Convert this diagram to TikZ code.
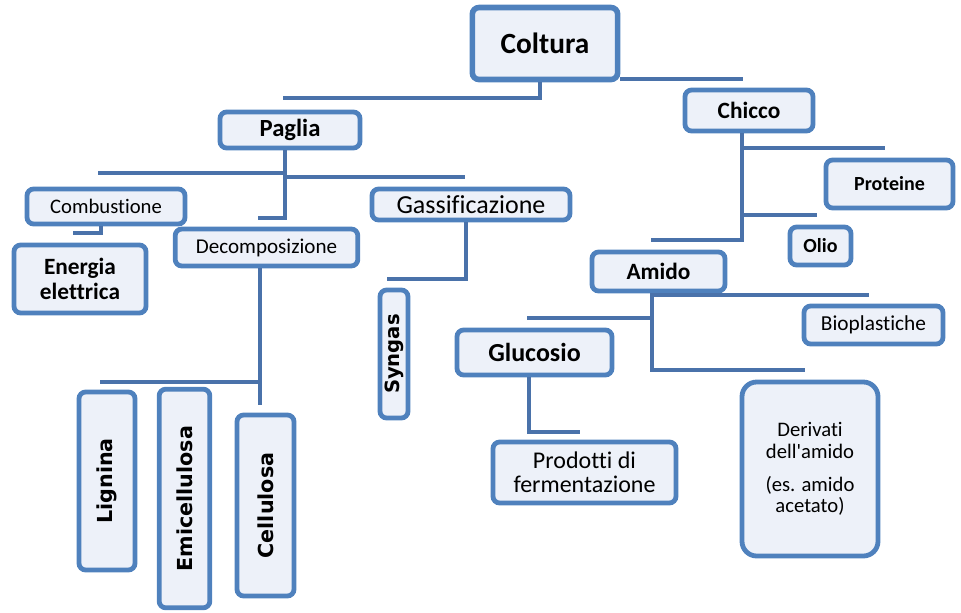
\documentclass[tikz,border=0pt]{standalone}
\usepackage{fontspec}
\setmainfont{Carlito}[Ligatures={TeXOff,NoCommon}]
\newfontfamily\vfont{DejaVu Sans}
\definecolor{boxline}{HTML}{4F81BD}
\definecolor{boxfill}{HTML}{EDF1F9}
\definecolor{linkline}{HTML}{4A72AA}
\newcommand\fsz[1]{\fontsize{#1}{#1}\selectfont}
\begin{document}
\begin{tikzpicture}[x=.75pt,y=-.75pt,
  box/.style={draw=boxline,fill=boxfill,line width=3.6pt,rounded corners=5pt,inner sep=0pt,align=center},
  vbox/.style={box,rotate=90,font=\vfont\bfseries\fsz{15.5}},
  link/.style={draw=linkline,line width=3pt}]
\useasboundingbox (0,0) rectangle (961,612);
% boxes
\node[box,line width=4.2pt,minimum width=109pt,minimum height=54pt,font=\bfseries\fsz{22}] (coltura) at (545,43.5) {Coltura};
\node[box,minimum width=105pt,minimum height=27pt,font=\bfseries\fsz{18.5}] (paglia) at (290,130) {Paglia};
\node[box,minimum width=96pt,minimum height=30.75pt,font=\bfseries\fsz{17.5}] (chicco) at (749,110.5) {Chicco};
\node[box,minimum width=118.5pt,minimum height=26.25pt,font=\fsz{15.5}] (combustione) at (106,206.5) {Combustione};
\node[box,minimum width=99pt,minimum height=51pt,font=\bfseries\fontsize{17.5}{19}\selectfont] (energia) at (80,279) {Energia\\elettrica};
\node[box,minimum width=137pt,minimum height=27.75pt,font=\fsz{15.8}] (decomp) at (266.5,247.5) {Decomposizione};
\node[box,minimum width=148.5pt,minimum height=23.25pt,font=\fsz{19.5}] (gassif) at (471,204.5) {Gassificazione};
\node[vbox,minimum width=96pt,minimum height=21pt,font=\vfont\bfseries\fsz{14.7}] (syngas) at (394,354) {Syngas};
\node[vbox,minimum width=133.5pt,minimum height=42pt] (lignina) at (107,481) {Lignina};
\node[vbox,minimum width=164pt,minimum height=38pt] (emicell) at (184.5,498.5) {Emicellulosa};
\node[vbox,minimum width=135.75pt,minimum height=42.75pt] (cellulosa) at (265.5,505.5) {Cellulosa};
\node[box,minimum width=95.25pt,minimum height=36pt,font=\bfseries\fsz{15}] (proteine) at (889.5,184) {Proteine};
\node[box,minimum width=45.75pt,minimum height=28.5pt,font=\bfseries\fsz{15}] (olio) at (820.5,246) {Olio};
\node[box,minimum width=99.75pt,minimum height=29.25pt,font=\bfseries\fsz{17.5}] (amido) at (658.5,271.5) {Amido};
\node[box,minimum width=104.25pt,minimum height=28.5pt,font=\fsz{16}] (bioplast) at (873.5,325) {Bioplastiche};
\node[box,minimum width=116.25pt,minimum height=33.75pt,font=\bfseries\fsz{19.5}] (glucosio) at (534.5,352.5) {Glucosio};
\node[box,minimum width=137.25pt,minimum height=45.75pt,font=\fontsize{18}{18}\selectfont] (prodotti) at (584.5,472.5) {Prodotti di\\fermentazione};
\node[box,rounded corners=11pt,minimum width=102pt,minimum height=130.5pt,font=\fontsize{15.5}{16}\selectfont] (derivati) at (810,469) {Derivati\\dell'amido\\[9pt](es. amido\\acetato)};
% connector ends
\coordinate (c1) at (283,98);
\coordinate (c2) at (743,79);
\coordinate (p1) at (98,173);
\coordinate (p2) at (465,177);
\coordinate (p3) at (258,218);
\coordinate (e1) at (73,233);
\coordinate (d1) at (100,382);
\coordinate (d2) at (260,405);
\coordinate (g1) at (387,279);
\coordinate (h1) at (885,148);
\coordinate (h2) at (817,215);
\coordinate (h3) at (651,240);
\coordinate (a1) at (869,295);
\coordinate (a2) at (527,318);
\coordinate (a3) at (805,370);
\coordinate (u1) at (580,432);
% connectors
\draw[link] ([xshift=-4pt]coltura.south) |- (c1);
\draw[link] (coltura.east |- c2) -- (c2);
\draw[link] ([xshift=-4pt]paglia.south) |- (p3);
\draw[link] ([xshift=-4pt]paglia.south |- p1) -- (p1);
\draw[link] ([xshift=-4pt]paglia.south |- p2) -- (p2);
\draw[link] ([xshift=-4pt]combustione.south) |- (e1);
\draw[link] (decomp.south -| d2) -- (d2);
\draw[link] (d2 |- d1) -- (d1);
\draw[link] ([xshift=-4pt]gassif.south) |- (g1);
\draw[link] ([xshift=-5pt]chicco.south) |- (h3);
\draw[link] ([xshift=-5pt]chicco.south |- h1) -- (h1);
\draw[link] ([xshift=-5pt]chicco.south |- h2) -- (h2);
\draw[link] ([xshift=-5pt]amido.south) |- (a3);
\draw[link] ([xshift=-5pt]amido.south |- a1) -- (a1);
\draw[link] ([xshift=-5pt]amido.south |- a2) -- (a2);
\draw[link] ([xshift=-4pt]glucosio.south) |- (u1);
\end{tikzpicture}
\end{document}
